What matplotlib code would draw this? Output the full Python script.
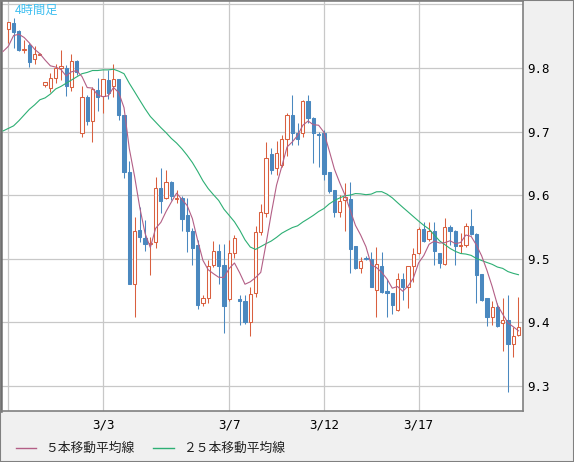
import numpy as np
import pandas as pd
import matplotlib
matplotlib.use("Agg")
import matplotlib.pyplot as plt
from matplotlib.patches import Rectangle
from matplotlib.lines import Line2D

# 4時間足 (2/26 ~ 3/19), one entry per candle
opens = [9.861, 9.870, 9.858, 9.829, 9.836, 9.814, 9.821, 9.774, 9.768, 9.785,
         9.800, 9.800, 9.770, 9.811, 9.697, 9.754, 9.717, 9.765, 9.756, 9.781,
         9.771, 9.783, 9.726, 9.637, 9.460, 9.546, 9.532, 9.523, 9.526, 9.612,
         9.595, 9.621, 9.594, 9.595, 9.569, 9.544, 9.522, 9.430, 9.439, 9.490,
         9.512, 9.491, 9.436, 9.509, 9.436, 9.434, 9.400, 9.447, 9.542, 9.572,
         9.664, 9.642, 9.647, 9.689, 9.726, 9.697, 9.697, 9.748, 9.722, 9.696,
         9.697, 9.637, 9.608, 9.574, 9.592, 9.594, 9.520, 9.486, 9.502, 9.499,
         9.451, 9.489, 9.450, 9.446, 9.419, 9.469, 9.455, 9.488, 9.509, 9.547,
         9.531, 9.543, 9.509, 9.492, 9.550, 9.543, 9.520, 9.522, 9.551, 9.539,
         9.476, 9.438, 9.409, 9.424, 9.399, 9.404, 9.366, 9.380]
highs = [9.873, 9.878, 9.859, 9.844, 9.839, 9.834, 9.823, 9.778, 9.792, 9.807,
         9.828, 9.805, 9.822, 9.813, 9.771, 9.758, 9.770, 9.784, 9.783, 9.797,
         9.807, 9.783, 9.726, 9.653, 9.566, 9.582, 9.561, 9.535, 9.628, 9.642,
         9.640, 9.622, 9.608, 9.598, 9.595, 9.548, 9.530, 9.443, 9.498, 9.528,
         9.523, 9.524, 9.530, 9.537, 9.443, 9.443, 9.455, 9.552, 9.586, 9.684,
         9.674, 9.685, 9.694, 9.729, 9.758, 9.713, 9.750, 9.758, 9.723, 9.700,
         9.702, 9.637, 9.608, 9.600, 9.619, 9.620, 9.520, 9.503, 9.505, 9.510,
         9.519, 9.511, 9.469, 9.446, 9.478, 9.478, 9.489, 9.517, 9.550, 9.558,
         9.558, 9.558, 9.509, 9.564, 9.553, 9.545, 9.541, 9.557, 9.579, 9.540,
         9.476, 9.438, 9.433, 9.430, 9.439, 9.443, 9.393, 9.440]
lows = [9.839, 9.832, 9.827, 9.824, 9.802, 9.807, 9.820, 9.770, 9.763, 9.777,
        9.781, 9.756, 9.764, 9.789, 9.691, 9.710, 9.683, 9.732, 9.729, 9.751,
        9.755, 9.718, 9.627, 9.461, 9.409, 9.527, 9.513, 9.475, 9.517, 9.572,
        9.594, 9.592, 9.587, 9.543, 9.511, 9.491, 9.421, 9.425, 9.431, 9.487,
        9.461, 9.384, 9.434, 9.502, 9.396, 9.398, 9.378, 9.440, 9.537, 9.565,
        9.634, 9.631, 9.644, 9.661, 9.679, 9.679, 9.692, 9.713, 9.651, 9.645,
        9.624, 9.604, 9.566, 9.565, 9.544, 9.477, 9.484, 9.477, 9.498, 9.456,
        9.409, 9.447, 9.409, 9.413, 9.418, 9.435, 9.422, 9.464, 9.508, 9.527,
        9.528, 9.490, 9.486, 9.490, 9.522, 9.490, 9.509, 9.519, 9.537, 9.431,
        9.434, 9.394, 9.396, 9.393, 9.355, 9.291, 9.346, 9.378]
closes = [9.872, 9.857, 9.828, 9.830, 9.810, 9.822, 9.822, 9.778, 9.785, 9.800,
          9.803, 9.771, 9.811, 9.794, 9.754, 9.716, 9.767, 9.755, 9.782, 9.761,
          9.782, 9.726, 9.637, 9.461, 9.544, 9.534, 9.524, 9.525, 9.612, 9.591,
          9.620, 9.598, 9.595, 9.563, 9.543, 9.517, 9.427, 9.438, 9.489, 9.512,
          9.489, 9.425, 9.509, 9.532, 9.434, 9.400, 9.444, 9.542, 9.573, 9.658,
          9.639, 9.667, 9.689, 9.726, 9.698, 9.689, 9.748, 9.722, 9.697, 9.694,
          9.634, 9.606, 9.574, 9.591, 9.597, 9.515, 9.486, 9.497, 9.500, 9.456,
          9.492, 9.448, 9.446, 9.427, 9.469, 9.455, 9.488, 9.508, 9.547, 9.528,
          9.543, 9.513, 9.493, 9.550, 9.543, 9.520, 9.522, 9.552, 9.539, 9.475,
          9.435, 9.409, 9.424, 9.394, 9.403, 9.366, 9.379, 9.392]

# moving averages before enough candles are on screen (from index -1)
ma5_head = [9.826, 9.834, 9.851, 9.853, 9.848]
ma25_head = [9.701, 9.705, 9.709, 9.717, 9.726, 9.735, 9.742, 9.750, 9.753,
             9.759, 9.767, 9.771, 9.776, 9.781, 9.786, 9.791, 9.793, 9.796,
             9.796, 9.797, 9.797, 9.798, 9.795, 9.791, 9.776]

grid_x = [0, 18, 42, 60, 78]
date_ticks = [18, 42, 60, 78]
date_labels = ["3/3", "3/7", "3/12", "3/17"]
grid_y = [9.3, 9.4, 9.5, 9.6, 9.7, 9.8, 9.9]
price_ticks = [9.3, 9.4, 9.5, 9.6, 9.7, 9.8]

up_col = "#d9603f"
down_col = "#4a88bf"
ma5_col = "#b35f86"
ma25_col = "#2daf74"
jp = ["Noto Sans CJK JP", "DejaVu Sans"]

cl = pd.Series(closes)
ma5 = np.concatenate([ma5_head, cl.rolling(5).mean().values[4:]])
ma25 = np.concatenate([ma25_head, cl.rolling(25).mean().values[24:]])
ma_x = np.arange(-1, len(closes))

W, H = 574, 462
fig = plt.figure(figsize=(W / 100, H / 100), dpi=100, facecolor="#f0f0f0")
ax = fig.add_axes([1 / W, 1 - 411 / H, 522 / W, 410 / H])
ax.set_facecolor("white")
ax.set_xlim(-1.39, 97.86)
ax.set_ylim(9.2607, 9.9053)

for gy in grid_y:
    ax.axhline(gy, color="#c8c8c8", lw=0.9, zorder=1)
for gx in grid_x:
    ax.axvline(gx, color="#c8c8c8", lw=0.9, zorder=1)

w = 0.62
for i, (o, h, l, c) in enumerate(zip(opens, highs, lows, closes)):
    if c >= o:
        col = up_col
        face = "white"
    else:
        col = down_col
        face = down_col
    ax.vlines(i, l, h, color=col, lw=0.75, zorder=2)
    lo = min(o, c)
    hgt = max(abs(c - o), 0.0008)
    ax.add_patch(Rectangle((i - w / 2, lo), w, hgt, facecolor=face,
                           edgecolor=col, lw=0.75, zorder=3))

ax.plot(ma_x, ma25, color=ma25_col, lw=0.8, zorder=4)
ax.plot(ma_x, ma5, color=ma5_col, lw=0.8, zorder=4)

ax.yaxis.tick_right()
ax.set_yticks(price_ticks)
ax.set_yticklabels([f"{p:.1f}" for p in price_ticks], family="DejaVu Sans Mono")
ax.set_xticks(date_ticks)
ax.set_xticklabels(date_labels, family="DejaVu Sans Mono")
ax.tick_params(axis="y", length=0, pad=3, labelsize=9, colors="black")
ax.tick_params(axis="x", length=0, pad=5.5, labelsize=9, colors="black")
for s in ax.spines.values():
    s.set_color("#808080")
    s.set_linewidth(1.2)
ax.spines["left"].set_color("#6e6e6e")
ax.spines["left"].set_linewidth(1.8)

fig.text(15 / W, 1 - 10.5 / H, "4時間足", color="#3fbff0", fontsize=8.8,
         family=jp, va="center", ha="left")

ly = 1 - 448 / H
fig.add_artist(Line2D([16 / W, 36 / W], [ly, ly], color=ma5_col, lw=1.0))
fig.text(45 / W, ly, "５本移動平均線", fontsize=9.2, va="center", ha="left",
         family=jp, color="#222222")
fig.add_artist(Line2D([153 / W, 174 / W], [ly, ly], color=ma25_col, lw=1.0))
fig.text(183 / W, ly, "２５本移動平均線", fontsize=9.2, va="center", ha="left",
         family=jp, color="#222222")

fig.add_artist(Rectangle((0, 0), 1, 1, transform=fig.transFigure, fill=False,
                         edgecolor="#808080", lw=1.5))

fig.savefig("out.png", dpi=100, facecolor=fig.get_facecolor())
